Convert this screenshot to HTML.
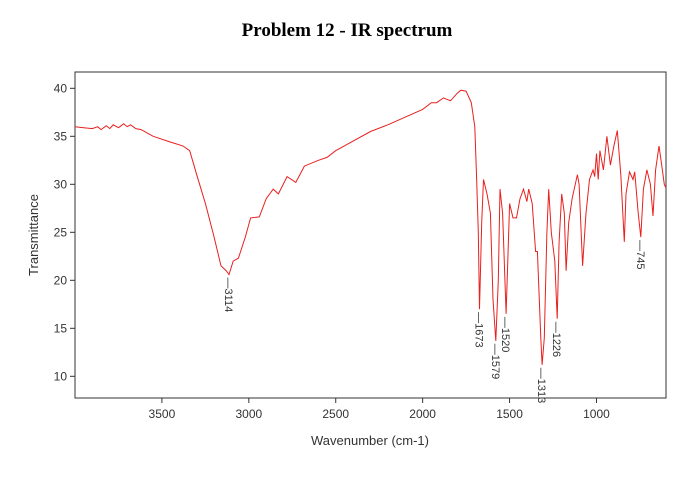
<!DOCTYPE html>
<html><head><meta charset="utf-8"><style>
html,body{margin:0;padding:0;background:#fff;}
svg{display:block;font-family:"Liberation Sans",sans-serif;}
</style></head><body>
<svg id="c" width="700" height="480">
<text x="347" y="36" text-anchor="middle" font-family="Liberation Serif,serif" font-weight="bold" font-size="19">Problem 12 - IR spectrum</text>
<rect x="75" y="72" width="591" height="326" fill="none" stroke="#333" stroke-width="1"/>
<g id="axes"></g>
<path id="line" fill="none" stroke="#e8201e" stroke-width="1"/>
<g id="peaks"></g>
<text x="0" y="0" transform="translate(38,235) rotate(-90)" text-anchor="middle" font-size="13" fill="#333">Transmittance</text>
<text x="370" y="445" text-anchor="middle" font-size="13" fill="#333">Wavenumber (cm-1)</text>
</svg>
<script>
const wavenumbers=[4000,3950,3900,3870,3850,3820,3800,3780,3750,3720,3700,3680,3650,3620,3550,3450,3380,3340,3300,3250,3200,3160,3130,3114,3090,3060,3020,2990,2940,2900,2860,2830,2780,2730,2680,2600,2550,2500,2400,2300,2200,2100,2000,1950,1920,1880,1840,1800,1780,1750,1720,1700,1690,1680,1673,1660,1650,1630,1610,1595,1579,1565,1555,1540,1520,1505,1500,1480,1460,1440,1420,1400,1390,1370,1350,1340,1320,1313,1300,1285,1275,1260,1240,1226,1215,1200,1185,1175,1160,1140,1110,1100,1080,1060,1040,1020,1010,1000,990,980,960,940,920,900,880,860,840,830,810,790,780,760,745,730,710,690,675,660,640,625,610,600];
const transmittance=[36,35.9,35.8,36,35.7,36.1,35.8,36.2,35.9,36.3,36,36.2,35.8,35.7,35,34.4,34,33.5,31,28,24.5,21.5,21,20.6,22,22.3,24.5,26.5,26.6,28.5,29.5,29,30.8,30.2,31.9,32.5,32.8,33.5,34.5,35.5,36.2,37,37.8,38.5,38.5,39,38.7,39.5,39.8,39.7,38.5,36,31,25,17,26,30.5,29,27,18,13.7,20,29.5,27,16.5,25,28,26.5,26.5,28.5,29.5,28.2,29.5,28,23,23,14,11.2,14,25,29.5,25,22,16,24,29,27,21,26,28.5,31,30,21.5,27,30.5,31.5,30.8,33.2,30.5,33.5,31.5,35,32,34,35.6,31,24,29,31.3,30.5,31.3,27,24.5,29.5,31.5,30,26.7,31.5,34,32,30,29.6];
const xTicks=[3500,3000,2500,2000,1500,1000];
const yTicks=[10,15,20,25,30,35,40];
const peakLabels=[3114,1673,1579,1520,1313,1226,745];
const peakT=[20.6,17,13.7,16.5,11.2,16,24.5];
const NS='http://www.w3.org/2000/svg';
const X=w=>75+(4000-w)*591/3400;
const Y=t=>88.3+(40-t)*9.6;
const axes=document.getElementById('axes');
function mk(tag,attrs,parent,text){const e=document.createElementNS(NS,tag);for(const k in attrs)e.setAttribute(k,attrs[k]);if(text!==undefined)e.textContent=text;parent.appendChild(e);return e;}
xTicks.forEach(v=>{const x=X(v);
 const t=mk('line',{x1:x,x2:x,y1:398,y2:403,stroke:'#333'},axes);
 
 
 const l=mk('text',{x:x,y:418,'text-anchor':'middle','font-size':12,fill:'#333'},axes,v);
 
 });
yTicks.forEach(v=>{const y=Y(v);
 const t=mk('line',{x1:70,x2:75,y1:y,y2:y,stroke:'#333'},axes);
 
 
 const l=mk('text',{x:67,y:y+4,'text-anchor':'end','font-size':12,fill:'#333'},axes,v);
 
 });
document.getElementById('line').setAttribute('d',wavenumbers.map((w,i)=>(i?'L':'M')+X(w).toFixed(1)+','+Y(transmittance[i]).toFixed(1)).join(''));
const pk=document.getElementById('peaks');
peakLabels.forEach((w,i)=>{const x=X(w),y=Y(peakT[i])+3;
 const l=mk('text',{transform:`translate(${x-4},${y}) rotate(90)`,'font-size':11,fill:'#333'},pk,'\u2014'+w);
 
 });
</script>
</body></html>
